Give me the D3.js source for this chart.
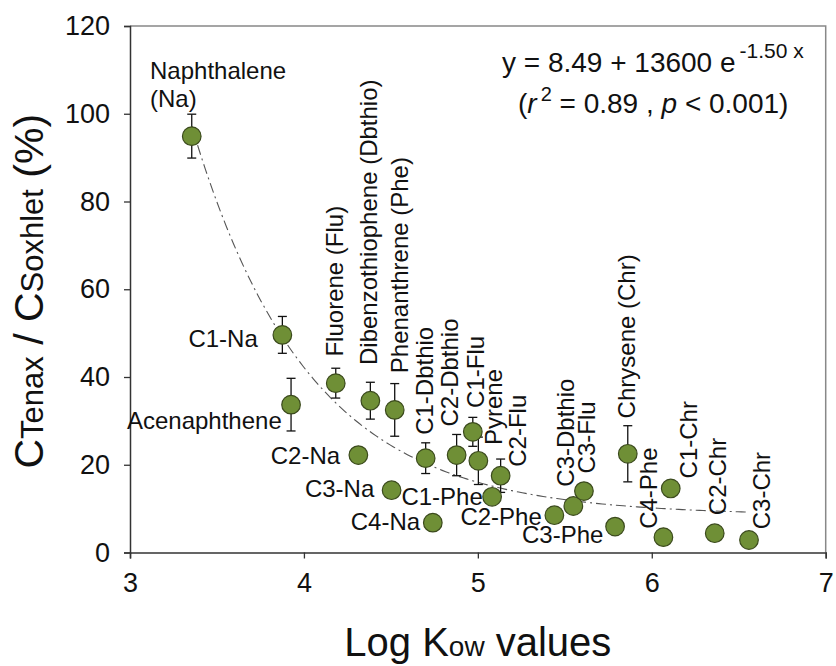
<!DOCTYPE html>
<html><head><meta charset="utf-8">
<script src="https://cdn.jsdelivr.net/npm/d3@7"></script>
<style>body{margin:0;background:#fff}svg{display:block;font-family:"Liberation Sans",Arial,sans-serif}</style>
</head><body><svg id="c" width="836" height="666"></svg>
<script>
// ---- data ----
const compounds = ["Naphthalene","C1-Na","Acenaphthene","C2-Na","C3-Na","C4-Na","Fluorene (Flu)","Dibenzothiophene (Dbthio)","Phenanthrene (Phe)","C1-Dbthio","C2-Dbthio","C1-Flu","Pyrene","C2-Flu","C1-Phe","C2-Phe","C3-Dbthio","C3-Flu","C3-Phe","Chrysene (Chr)","C4-Phe","C1-Chr","C2-Chr","C3-Chr"];
const logKow = [3.355,3.876,3.926,4.313,4.504,4.741,4.183,4.382,4.522,4.70,4.878,4.971,5.003,5.131,5.082,5.44,5.549,5.61,5.789,5.862,6.067,6.109,6.362,6.559];
const ratio  = [94.9,49.6,33.7,22.2,14.2,6.8,38.6,34.6,32.5,21.5,22.2,27.5,20.9,17.5,12.7,8.5,10.6,14.0,5.9,22.5,3.5,14.6,4.4,2.85];
const errs   = [5.0,4.2,6.0,1.3,0,0,3.4,4.2,6.0,3.5,4.7,3.3,5.4,3.8,0,0,0,0,0,6.4,0,0,0,0];
const xTicks = [3,4,5,6,7];
const yTicks = [0,20,40,60,80,100,120];
const fitParams = [8.49, 13600, -1.50]; // y = a + b e^(c x), from the chart's equation
const fitRange = [3.355, 6.559];

// ---- label layout (pixel offsets from each marker) ----
// [dx, dy, rotated, anchor]
const labelLayout = [
  [-41.7,-56.7,false,"start"],[-24.6,11.7,false,"end"],[-9.3,24.6,false,"end"],[-18.3,9,false,"end"],
  [-17.3,6.7,false,"end"],[-12.7,7.3,false,"end"],[7,-26.6,true],[6.4,-35.7,true],[13.6,-36.7,true],
  [7.6,-23.3,true],[1.6,-28.6,true],[10.8,-23.9,true],[23.7,-15.8,true],[25.3,-9,true],
  [-9.3,8.3,false,"end"],[-12.6,10,false,"end"],[0.7,-19.3,true],[11,-17.7,true],[-11.7,16.6,false,"end"],
  [7.3,-35.4,true],[-6.6,-8.3,true],[26,-10,true],[11.3,-18,true],[21,-10.7,true]
];

const svg = d3.select("#c");
const L=130,R=825.7,T=26,B=552.5;
const x = d3.scaleLinear().domain([3,7]).range([L,R]);
const y = d3.scaleLinear().domain([0,120]).range([B,T]);
const ink="#111";

// frame top/right
svg.append("path").attr("d",`M${L},${T}H${R}V${B}`).attr("fill","none").attr("stroke","#888").attr("stroke-width",1.5);

// axes
const xa = svg.append("g").attr("transform",`translate(0,${B})`)
  .call(d3.axisBottom(x).tickValues(xTicks).tickSize(6).tickPadding(14).tickFormat(d3.format("d")));
const ya = svg.append("g").attr("transform",`translate(${L},0)`)
  .call(d3.axisLeft(y).tickValues(yTicks).tickSize(6).tickPadding(14).tickFormat(d3.format("d")));
[xa,ya].forEach(g=>{
  g.select(".domain").attr("stroke","#333").attr("stroke-width",1.5);
  g.selectAll(".tick line").attr("stroke","#333").attr("stroke-width",1.3);
  g.selectAll("text").attr("font-size",27).attr("fill",ink).attr("font-family","Liberation Sans, Arial, sans-serif");
});

// fit curve
const fx = d3.range(fitRange[0], fitRange[1]+0.0001, 0.02);
svg.append("path")
  .attr("d", d3.line().x(d=>x(d)).y(d=>y(fitParams[0]+fitParams[1]*Math.exp(fitParams[2]*d)))(fx))
  .attr("fill","none").attr("stroke","#555").attr("stroke-width",1.1).attr("stroke-dasharray","10,4,2,4");

// error bars
const data = compounds.map((c,i)=>({c,x:logKow[i],y:ratio[i],e:errs[i],lay:labelLayout[i]}));
const eg = svg.append("g").attr("stroke","#111").attr("stroke-width",1.3);
data.filter(d=>d.e>0).forEach(d=>{
  const cx=x(d.x);
  eg.append("line").attr("x1",cx).attr("x2",cx).attr("y1",y(d.y-d.e)).attr("y2",y(d.y+d.e));
  [d.y-d.e,d.y+d.e].forEach(v=>eg.append("line").attr("x1",cx-4.5).attr("x2",cx+4.5).attr("y1",y(v)).attr("y2",y(v)));
});

// markers
svg.append("g").selectAll("circle").data(data).join("circle")
  .attr("cx",d=>x(d.x)).attr("cy",d=>y(d.y)).attr("r",9.3)
  .attr("fill","#6f8f36").attr("stroke","#3b4a1d").attr("stroke-width",1.2);

// labels
const lg = svg.append("g").attr("font-size",24).attr("fill",ink);
data.forEach(d=>{
  const [dx,dy,rot,anchor]=d.lay;
  const px=x(d.x)+dx, py=y(d.y)+dy;
  if(rot){
    lg.append("text").attr("transform",`translate(${px},${py}) rotate(-90)`).text(d.c);
  } else if(d.c==="Naphthalene"){
    lg.append("text").attr("x",px).attr("y",py).text("Naphthalene");
    lg.append("text").attr("x",px).attr("y",py+28).text("(Na)");
  } else {
    lg.append("text").attr("x",px).attr("y",py).attr("text-anchor",anchor).text(d.c);
  }
});

// equation
const eq = svg.append("text").attr("x",502).attr("y",72).attr("font-size",28).attr("fill",ink);
eq.append("tspan").text("y = 8.49 + 13600 e");
eq.append("tspan").attr("font-size",21).attr("dy",-14).attr("dx",4).text("-1.50 x");
const eq2 = svg.append("text").attr("x",518).attr("y",113).attr("font-size",28).attr("fill",ink);
eq2.append("tspan").text("(");
eq2.append("tspan").attr("font-style","italic").text("r");
eq2.append("tspan").attr("font-size",20).attr("dy",-12).attr("dx",4).text("2");
eq2.append("tspan").attr("dy",12).text(" = 0.89 , ");
eq2.append("tspan").attr("font-style","italic").text("p");
eq2.append("tspan").text(" < 0.001)");

// axis titles
const yt = svg.append("text").attr("transform",`translate(43,${(T+B)/2+2}) rotate(-90)`).attr("text-anchor","middle").attr("fill",ink);
yt.append("tspan").attr("font-size",41).text("C");
yt.append("tspan").attr("font-size",31).text("Tenax");
yt.append("tspan").attr("font-size",41).text(" / C");
yt.append("tspan").attr("font-size",31).text("Soxhlet");
yt.append("tspan").attr("font-size",41).text(" (%)");

const xt = svg.append("text").attr("x",(L+R)/2).attr("y",656).attr("text-anchor","middle").attr("fill",ink);
xt.append("tspan").attr("font-size",40).text("Log K");
xt.append("tspan").attr("font-size",28).text("ow");
xt.append("tspan").attr("font-size",40).text(" values");
</script></body></html>
